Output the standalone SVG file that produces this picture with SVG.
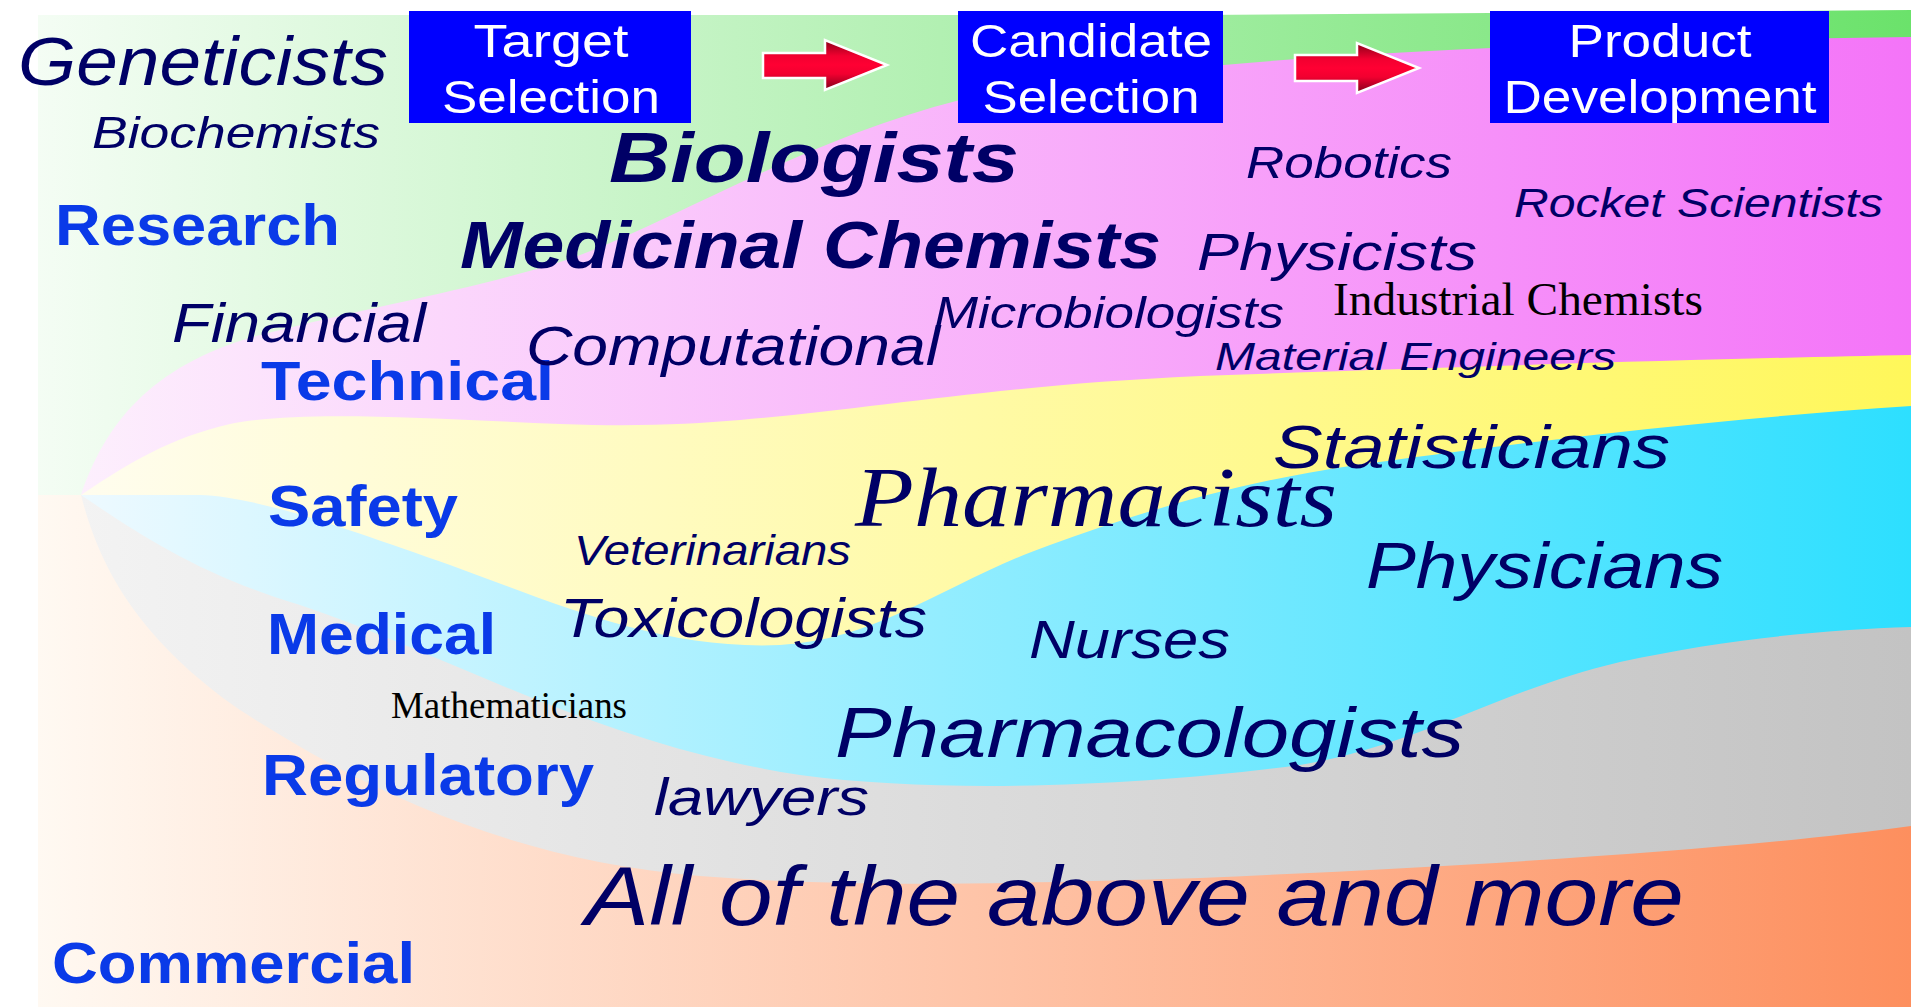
<svg xmlns="http://www.w3.org/2000/svg" width="1911" height="1008" viewBox="0 0 1911 1008">
<defs>
<linearGradient id="gGreen" gradientUnits="userSpaceOnUse" x1="38" y1="0" x2="1911" y2="0"><stop offset="0" stop-color="#F4FDF4"/><stop offset="1" stop-color="#6BE26B"/></linearGradient>
<linearGradient id="gMag" gradientUnits="userSpaceOnUse" x1="38" y1="0" x2="1911" y2="0"><stop offset="0" stop-color="#FDF2FD"/><stop offset="1" stop-color="#F474F8"/></linearGradient>
<linearGradient id="gYel" gradientUnits="userSpaceOnUse" x1="38" y1="0" x2="1911" y2="0"><stop offset="0" stop-color="#FFFDF2"/><stop offset="1" stop-color="#FFF75A"/></linearGradient>
<linearGradient id="gCyan" gradientUnits="userSpaceOnUse" x1="38" y1="0" x2="1911" y2="0"><stop offset="0" stop-color="#F2FAFF"/><stop offset="1" stop-color="#2DDFFF"/></linearGradient>
<linearGradient id="gGray" gradientUnits="userSpaceOnUse" x1="38" y1="0" x2="1911" y2="0"><stop offset="0" stop-color="#F4F4F4"/><stop offset="1" stop-color="#C3C3C3"/></linearGradient>
<linearGradient id="gOra" gradientUnits="userSpaceOnUse" x1="38" y1="0" x2="1911" y2="0"><stop offset="0" stop-color="#FFF9F2"/><stop offset="1" stop-color="#FD8F5E"/></linearGradient>
<linearGradient id="gArrow" x1="0" y1="0" x2="0" y2="1"><stop offset="0" stop-color="#8A0018"/><stop offset="0.32" stop-color="#F20030"/><stop offset="0.5" stop-color="#FF0033"/><stop offset="0.68" stop-color="#F20030"/><stop offset="1" stop-color="#80001A"/></linearGradient>
<style>
.nv{font-family:"Liberation Sans",Arial,sans-serif;font-style:italic;fill:#000066}
.nvb{font-family:"Liberation Sans",Arial,sans-serif;font-style:italic;font-weight:bold;fill:#000066}
.tm{font-family:"Liberation Serif","Times New Roman",serif;fill:#000000}
.tmi{font-family:"Liberation Serif","Times New Roman",serif;font-style:italic;fill:#000066}
.cat{font-family:"Liberation Sans",Arial,sans-serif;font-weight:bold;fill:#0A3AE8}
.hd{font-family:"Liberation Sans",Arial,sans-serif;fill:#FFFFFF;font-size:47px;text-anchor:middle}
.box{fill:#0000FF}
.arrow{fill:url(#gArrow);stroke:#FFFFFF;stroke-width:2.5;stroke-linejoin:miter}
</style>
</defs>
<rect width="1911" height="1008" fill="#FFFFFF"/>
<g id="bands">
<path id="band-research" d="M38,15 L1200,15 L1911,10 L1911,495 L38,495 Z" fill="url(#gGreen)"/>
<rect id="band-commercial-base" x="38" y="495" width="1873" height="512" fill="url(#gOra)"/>
<path id="band-technical" d="M81,495 C105,425 150,365 260,335 C380,305 470,290 560,262 C660,230 800,140 960,100 C1150,60 1500,42 1911,37 L1911,1007 L81,1007 Z" fill="url(#gMag)"/>
<path id="band-safety" d="M81,495 C130,462 170,438 230,424 C300,410 420,418 560,424 C640,427 690,424 740,420 C880,408 1000,385 1200,376 C1500,365 1750,358 1911,355 L1911,1007 L81,1007 Z" fill="url(#gYel)"/>
<path id="band-medical" d="M81,495 L200,495 C260,497 350,530 450,565 C560,605 660,650 780,645 C880,640 950,580 1050,545 C1120,520 1220,485 1350,466 C1500,445 1700,420 1911,406 L1911,1007 L81,1007 Z" fill="url(#gCyan)"/>
<path id="band-regulatory" d="M81,495 C140,535 200,575 300,605 C450,655 600,745 800,775 C950,795 1150,785 1300,765 C1420,745 1500,690 1620,662 C1720,640 1820,630 1911,627 L1911,1007 L81,1007 Z" fill="url(#gGray)"/>
<path id="band-commercial" d="M81,495 C100,570 140,640 240,710 C380,800 520,860 700,876 C850,888 1000,884 1200,878 C1500,865 1750,848 1911,826 L1911,1007 L81,1007 Z" fill="url(#gOra)"/>
</g>
<g id="stage-target">
<rect class="box" x="409" y="11" width="282" height="112"/>
<text class="hd" x="551" y="57" textLength="155" lengthAdjust="spacingAndGlyphs">Target</text>
<text class="hd" x="551" y="113" textLength="218" lengthAdjust="spacingAndGlyphs">Selection</text>
</g>
<g id="stage-candidate">
<rect class="box" x="958" y="11" width="265" height="112"/>
<text class="hd" x="1091" y="57" textLength="242" lengthAdjust="spacingAndGlyphs">Candidate</text>
<text class="hd" x="1091" y="113" textLength="217" lengthAdjust="spacingAndGlyphs">Selection</text>
</g>
<g id="stage-product">
<rect class="box" x="1490" y="11" width="339" height="112"/>
<text class="hd" x="1660" y="57" textLength="183" lengthAdjust="spacingAndGlyphs">Product</text>
<text class="hd" x="1660" y="113" textLength="313" lengthAdjust="spacingAndGlyphs">Development</text>
</g>
<g id="connectors">
<path class="arrow" d="M763,53 L825,53 L825,40 L887,65 L825,90 L825,78 L763,78 Z"/>
<path class="arrow" d="M1295,55 L1357,55 L1357,43 L1419,68 L1357,93 L1357,81 L1295,81 Z"/>
</g>
<g id="categories">
<text class="cat" x="55" y="245" font-size="57" textLength="285" lengthAdjust="spacingAndGlyphs">Research</text>
<text class="cat" x="261" y="400" font-size="56" textLength="293" lengthAdjust="spacingAndGlyphs">Technical</text>
<text class="cat" x="268" y="526" font-size="58" textLength="190" lengthAdjust="spacingAndGlyphs">Safety</text>
<text class="cat" x="267" y="654" font-size="57" textLength="229" lengthAdjust="spacingAndGlyphs">Medical</text>
<text class="cat" x="262" y="795" font-size="57" textLength="332" lengthAdjust="spacingAndGlyphs">Regulatory</text>
<text class="cat" x="52" y="983" font-size="58" textLength="363" lengthAdjust="spacingAndGlyphs">Commercial</text>
</g>
<g id="professions">
<text class="nv" x="18" y="85" font-size="68" textLength="370" lengthAdjust="spacingAndGlyphs">Geneticists</text>
<text class="nv" x="92" y="148" font-size="45" textLength="288" lengthAdjust="spacingAndGlyphs">Biochemists</text>
<text class="nvb" x="609" y="182" font-size="71" textLength="410" lengthAdjust="spacingAndGlyphs">Biologists</text>
<text class="nvb" x="460" y="268" font-size="66" textLength="701" lengthAdjust="spacingAndGlyphs">Medicinal Chemists</text>
<text class="nv" x="1246" y="178" font-size="44" textLength="206" lengthAdjust="spacingAndGlyphs">Robotics</text>
<text class="nv" x="1514" y="217" font-size="41" textLength="369" lengthAdjust="spacingAndGlyphs">Rocket Scientists</text>
<text class="nv" x="1197" y="270" font-size="52" textLength="280" lengthAdjust="spacingAndGlyphs">Physicists</text>
<text class="tm" x="1333" y="315" font-size="46" textLength="370" lengthAdjust="spacingAndGlyphs">Industrial Chemists</text>
<text class="nv" x="934" y="328" font-size="45" textLength="350" lengthAdjust="spacingAndGlyphs">Microbiologists</text>
<text class="nv" x="1215" y="370" font-size="38" textLength="401" lengthAdjust="spacingAndGlyphs">Material Engineers</text>
<text class="nv" x="172" y="342" font-size="55" textLength="254" lengthAdjust="spacingAndGlyphs">Financial</text>
<text class="nv" x="526" y="365" font-size="56" textLength="414" lengthAdjust="spacingAndGlyphs">Computational</text>
<text class="tmi" x="855" y="526" font-size="84" textLength="482" lengthAdjust="spacingAndGlyphs">Pharmacists</text>
<text class="nv" x="1273" y="468" font-size="62" textLength="397" lengthAdjust="spacingAndGlyphs">Statisticians</text>
<text class="nv" x="574" y="565" font-size="42" textLength="277" lengthAdjust="spacingAndGlyphs">Veterinarians</text>
<text class="nv" x="1366" y="588" font-size="65" textLength="357" lengthAdjust="spacingAndGlyphs">Physicians</text>
<text class="nv" x="560" y="637" font-size="55" textLength="367" lengthAdjust="spacingAndGlyphs">Toxicologists</text>
<text class="nv" x="1029" y="658" font-size="54" textLength="201" lengthAdjust="spacingAndGlyphs">Nurses</text>
<text class="tm" x="391" y="718" font-size="37" textLength="236" lengthAdjust="spacingAndGlyphs">Mathematicians</text>
<text class="nv" x="835" y="757" font-size="71" textLength="629" lengthAdjust="spacingAndGlyphs">Pharmacologists</text>
<text class="nv" x="654" y="815" font-size="52" textLength="215" lengthAdjust="spacingAndGlyphs">lawyers</text>
<text class="nv" x="585" y="925" font-size="84" textLength="1099" lengthAdjust="spacingAndGlyphs">All of the above and more</text>
</g>
</svg>
